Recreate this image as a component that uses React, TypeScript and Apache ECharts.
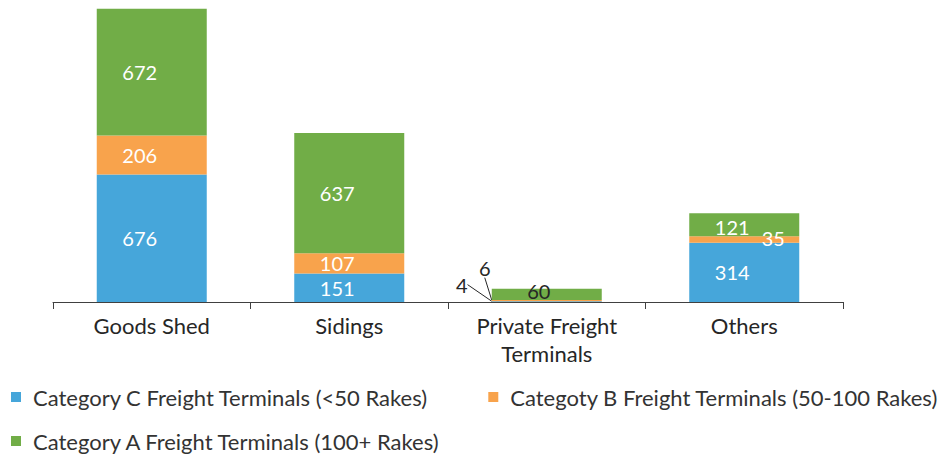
import React, { useEffect, useRef } from "react";
import * as echarts from "echarts";

const categories = ["Goods Shed", "Sidings", "Private Freight\nTerminals", "Others"];
const categoryC = [676, 151, 4, 314];
const categoryB = [206, 107, 6, 35];
const categoryA = [672, 637, 60, 121];
const seriesNames = [
  "Category C Freight Terminals (<50 Rakes)",
  "Categoty B Freight Terminals (50-100 Rakes)",
  "Category A Freight Terminals (100+ Rakes)",
];

const FONT = "Lato";
const BLUE = "#46A6DA";
const ORANGE = "#F8A34C";
const GREEN = "#71AD47";
const DARK = "#262626";

// index of the small stack whose labels sit outside with leader lines
const SMALL = 2;

export default function App() {
  const ref = useRef<HTMLDivElement>(null);

  useEffect(() => {
    if (!ref.current) return;
    const chart = echarts.init(ref.current, null, { renderer: "svg" });

    const baseLabel = {
      show: true,
      position: "inside",
      color: "#ffffff",
      fontFamily: FONT,
      fontSize: 20,
    };

    const makeData = (values: number[], overrides: Record<number, any>) =>
      values.map((v, i) => (overrides[i] ? { value: v, ...overrides[i] } : v));

    const leader = { show: true, length2: 0, lineStyle: { color: DARK, width: 1 } };

    // shift of each label relative to its segment centre
    const shift = (moves: Record<number, [number, number]>) => (p: any) => {
      const m = moves[p.dataIndex] || [-12, 0];
      return { dx: m[0], dy: m[1] };
    };

    const legendText = {
      color: "#333",
      fontFamily: FONT,
      fontSize: 22,
      padding: [0, 0, 0, 7],
    };

    const option: any = {
      animation: false,
      grid: { left: 53, right: 102, top: 0, bottom: 154, containLabel: false },
      xAxis: {
        type: "category",
        data: categories,
        axisLine: { lineStyle: { color: "#404040", width: 1 } },
        axisTick: { show: true, length: 7, lineStyle: { color: "#404040" } },
        axisLabel: {
          color: DARK,
          fontFamily: FONT,
          fontSize: 22,
          lineHeight: 28,
          margin: 9,
          interval: 0,
        },
      },
      yAxis: { type: "value", min: 0, max: 1600, show: false },
      legend: [
        {
          data: [seriesNames[0], seriesNames[1]],
          left: 6,
          top: 381,
          itemWidth: 10,
          itemHeight: 10,
          itemGap: 60,
          icon: "rect",
          textStyle: legendText,
        },
        {
          data: [seriesNames[2]],
          left: 6,
          top: 425,
          itemWidth: 10,
          itemHeight: 10,
          icon: "rect",
          textStyle: legendText,
        },
      ],
      series: [
        {
          name: seriesNames[0],
          type: "bar",
          stack: "total",
          barWidth: 110,
          itemStyle: { color: BLUE },
          label: baseLabel,
          data: makeData(categoryC, {
            [SMALL]: { label: { color: DARK }, labelLine: leader },
          }),
          labelLayout: shift({ [SMALL]: [-85, -17] }),
        },
        {
          name: seriesNames[1],
          type: "bar",
          stack: "total",
          barWidth: 110,
          itemStyle: { color: ORANGE },
          label: baseLabel,
          data: makeData(categoryB, {
            [SMALL]: { label: { color: DARK }, labelLine: leader },
          }),
          labelLayout: shift({ [SMALL]: [-62, -33], 3: [29, -1] }),
        },
        {
          name: seriesNames[2],
          type: "bar",
          stack: "total",
          barWidth: 110,
          itemStyle: { color: GREEN },
          label: baseLabel,
          data: makeData(categoryA, {
            [SMALL]: { label: { color: DARK } },
          }),
          labelLayout: shift({ [SMALL]: [-8, -3], 3: [-12, 2] }),
        },
      ],
    };

    chart.setOption(option);
    return () => chart.dispose();
  }, []);

  return (
    <div
      ref={ref}
      style={{ position: "absolute", left: 0, top: 0, width: 945, height: 456 }}
    />
  );
}
